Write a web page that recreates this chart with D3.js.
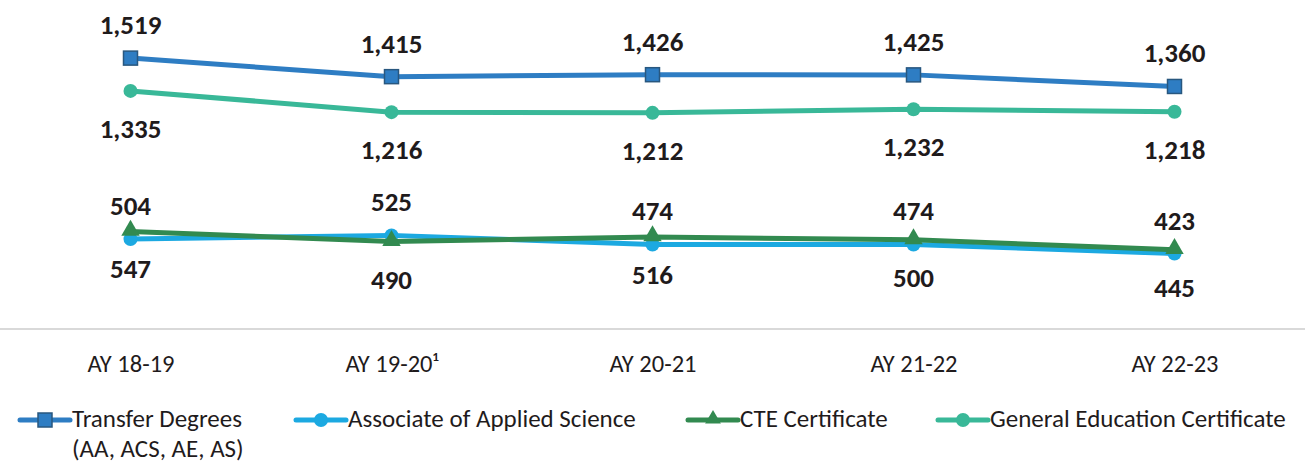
<!DOCTYPE html>
<html>
<head>
<meta charset="utf-8">
<script src="https://cdn.jsdelivr.net/npm/d3@7"></script>
<style>
  html, body { margin: 0; padding: 0; background: #ffffff; }
  svg { display: block; font-family: Carlito, Lato, "Open Sans", sans-serif; }
</style>
</head>
<body>
<svg id="chart" width="1305" height="463"></svg>
<script>
// ---- data ----
const categories = ["AY 18-19", "AY 19-20\u00B9", "AY 20-21", "AY 21-22", "AY 22-23"];
const transferDegrees = [1519, 1415, 1426, 1425, 1360];
const appliedScience = [504, 525, 474, 474, 423];
const cteCertificate = [547, 490, 516, 500, 445];
const genEdCertificate = [1335, 1216, 1212, 1232, 1218];
const seriesNames = ["Transfer Degrees", "Associate of Applied Science", "CTE Certificate", "General Education Certificate"];

// ---- styling ----
const series = [
  { name: seriesNames[0], values: transferDegrees, color: "#2e7dc3", marker: "square", label: "above", legendX: 20, legendLines: ["Transfer Degrees", "(AA, ACS, AE, AS)"] },
  { name: seriesNames[1], values: appliedScience, color: "#1ca9e1", marker: "circle", label: "above", legendX: 296, legendLines: ["Associate of Applied Science"] },
  { name: seriesNames[2], values: cteCertificate, color: "#328a50", marker: "triangle", label: "below", legendX: 688, legendLines: ["CTE Certificate"] },
  { name: seriesNames[3], values: genEdCertificate, color: "#39b898", marker: "circle", label: "below", legendX: 938, legendLines: ["General Education Certificate"] }
];

const W = 1305, H = 463;
const svg = d3.select("#chart");

const x = d3.scalePoint().domain(categories).range([0, W]).padding(0.5);
const y = d3.scaleLinear().domain([0, 1800]).range([329, 8]);

const textColor = "#1f1b1c";

// x axis
const xAxis = d3.axisBottom(x).tickSize(0).tickPadding(0);
const gx = svg.append("g").attr("transform", `translate(0,${y(0)})`).call(xAxis);
gx.select(".domain").attr("stroke", "#d9d9d9").attr("stroke-width", 2).attr("d", `M0,0H${W}`);
gx.selectAll(".tick text")
  .attr("y", 43)
  .attr("dy", null)
  .attr("font-size", 24.5)
  .attr("font-family", "Carlito, Lato, sans-serif")
  .attr("fill", textColor);

function drawMarker(g, type, cx, cy, color, size) {
  if (type === "square") {
    g.append("rect").attr("x", cx - size / 2).attr("y", cy - size / 2)
      .attr("width", size).attr("height", size)
      .attr("fill", color).attr("stroke", "#28577f").attr("stroke-width", 1.5);
  } else if (type === "circle") {
    g.append("circle").attr("cx", cx).attr("cy", cy).attr("r", size / 2).attr("fill", color);
  } else {
    const s = d3.symbol().type(d3.symbolTriangle).size(size * size * 0.75);
    g.append("path").attr("d", s()).attr("transform", `translate(${cx},${cy - 1})`).attr("fill", color);
  }
}

const line = d3.line().x((d, i) => x(categories[i])).y(d => y(d));

series.forEach(s => {
  const g = svg.append("g");
  g.append("path").datum(s.values).attr("d", line)
    .attr("fill", "none").attr("stroke", s.color).attr("stroke-width", 5)
    .attr("stroke-linejoin", "round").attr("stroke-linecap", "round");
  s.values.forEach((v, i) => drawMarker(g, s.marker, x(categories[i]), y(v), s.color, 14));
});

// data labels
series.forEach(s => {
  svg.append("g").selectAll("text").data(s.values).join("text")
    .attr("x", (d, i) => x(categories[i]))
    .attr("y", d => y(d) + (s.label === "above" ? -24 : 47))
    .attr("text-anchor", "middle")
    .attr("font-weight", "bold")
    .attr("font-size", 27)
    .attr("fill", textColor)
    .text(d => d3.format(",")(d));
});

// legend
const legendY = 420;
series.forEach(s => {
  const g = svg.append("g").attr("transform", `translate(${s.legendX},${legendY})`);
  g.append("line").attr("x1", 0).attr("x2", 50).attr("y1", 0).attr("y2", 0)
    .attr("stroke", s.color).attr("stroke-width", 5).attr("stroke-linecap", "round");
  drawMarker(g, s.marker, 25, 0, s.color, s.marker === "triangle" ? 12 : 14);
  s.legendLines.forEach((t, j) => {
    g.append("text").attr("x", 52).attr("y", 6.5 + j * 30.5)
      .attr("font-size", 25).attr("fill", textColor).text(t);
  });
});
</script>
</body>
</html>
